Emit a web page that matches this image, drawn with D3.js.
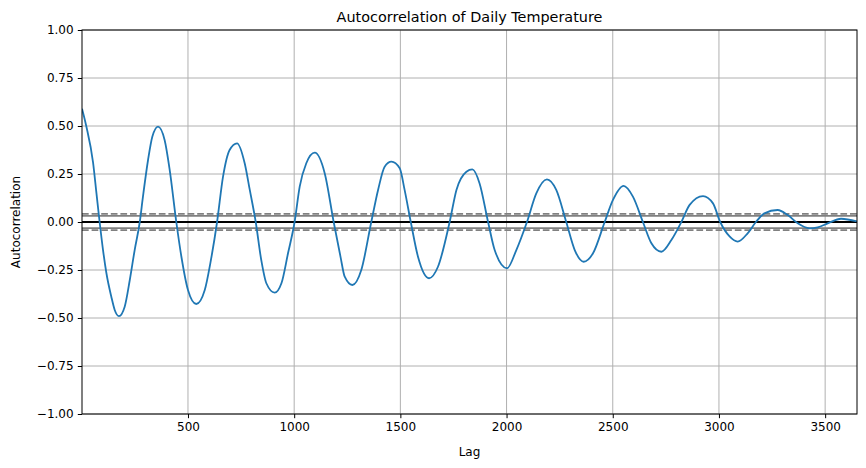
<!DOCTYPE html>
<html>
<head>
<meta charset="utf-8">
<script src="https://cdn.jsdelivr.net/npm/d3@7"></script>
<style>
  body { margin: 0; background: #fff; }
  text { font-family: "DejaVu Sans", sans-serif; fill: #000; }
</style>
</head>
<body>
<div id="chart"></div>
<script>
// lag values
const lags = [
  1, 21, 53, 69, 84, 100, 116, 139, 155, 175, 202, 226, 249, 273, 288, 312, 332, 359,
  390, 414, 445, 469, 500, 539, 579, 606, 637, 665, 696, 731, 767, 791, 819, 845, 869,
  908, 940, 971, 1002, 1026, 1057, 1097, 1144, 1186, 1218, 1238, 1274, 1316, 1363,
  1395, 1426, 1458, 1497, 1520, 1549, 1583, 1635, 1677, 1732, 1764, 1811, 1839, 1873,
  1913, 1944, 2002, 2046, 2096, 2140, 2190, 2234, 2281, 2321, 2363, 2407, 2462, 2501,
  2551, 2595, 2642, 2682, 2729, 2776, 2823, 2862, 2925, 2972, 3006, 3050, 3088, 3135,
  3174, 3214, 3276, 3324, 3371, 3426, 3465, 3512, 3575, 3650
];
// autocorrelation at each lag
const acf = [
  0.59, 0.50, 0.31, 0.15, 0.0, -0.146, -0.267, -0.389, -0.458, -0.49, -0.441, -0.302,
  -0.146, 0.0, 0.132, 0.323, 0.444, 0.497,
  0.427, 0.27, 0.0, -0.181, -0.354, -0.427, -0.354, -0.21, 0.0, 0.236, 0.375, 0.41,
  0.306, 0.167, 0.0, -0.198, -0.319,
  -0.368, -0.319, -0.163, 0.0, 0.184, 0.306, 0.361, 0.253, 0.0, -0.18, -0.285, -0.328,
  -0.25, 0.0,
  0.167, 0.288, 0.314, 0.28, 0.167, 0.0, -0.181, -0.293, -0.233, 0.0, 0.167, 0.262,
  0.274, 0.201,
  0.0, -0.146, -0.241, -0.146, 0.0, 0.149, 0.222, 0.167, 0.0, -0.146, -0.207, -0.163,
  0.0, 0.115,
  0.188, 0.132, 0.0, -0.111, -0.155, -0.094, 0.0, 0.089, 0.135, 0.097, 0.0, -0.075,
  -0.102, -0.059,
  0.0, 0.045, 0.0625, 0.036, -0.007, -0.033, -0.028, -0.007, 0.017, 0.003
];
// confidence bands (99% dashed, 95% solid) and the zero line
const bandLevels = [0.0426, 0.0324, 0.0, -0.0324, -0.0426];
const bandStyles = ['dashed', 'solid', 'zero', 'solid', 'dashed'];
const xTicks = [500, 1000, 1500, 2000, 2500, 3000, 3500];
const yTicks = [-1, -0.75, -0.5, -0.25, 0, 0.25, 0.5, 0.75, 1];

const svgW = 866, svgH = 468;
const margin = { top: 30, right: 9, bottom: 54, left: 82 };

const chart = d3.select('#chart').append('svg')
  .attr('width', svgW)
  .attr('height', svgH);

const x = d3.scaleLinear()
  .domain([1, 3650])
  .range([margin.left, svgW - margin.right]);
const y = d3.scaleLinear()
  .domain([-1, 1])
  .range([svgH - margin.bottom, margin.top]);

// grid lines
chart.append('g')
  .selectAll('line')
  .data(xTicks)
  .join('line')
  .attr('x1', d => x(d)).attr('x2', d => x(d))
  .attr('y1', margin.top).attr('y2', svgH - margin.bottom)
  .attr('stroke', '#b0b0b0').attr('stroke-width', 1);
chart.append('g')
  .selectAll('line')
  .data(yTicks)
  .join('line')
  .attr('x1', margin.left).attr('x2', svgW - margin.right)
  .attr('y1', d => y(d)).attr('y2', d => y(d))
  .attr('stroke', '#b0b0b0').attr('stroke-width', 1);

// clip everything to the axes box
chart.append('clipPath').attr('id', 'clip')
  .append('rect')
  .attr('x', margin.left).attr('y', margin.top)
  .attr('width', svgW - margin.left - margin.right)
  .attr('height', svgH - margin.top - margin.bottom);

const plot = chart.append('g').attr('clip-path', 'url(#clip)');

// horizontal reference lines
bandLevels.forEach((lvl, i) => {
  const style = bandStyles[i];
  plot.append('line')
    .attr('x1', margin.left).attr('x2', svgW - margin.right)
    .attr('y1', y(lvl)).attr('y2', y(lvl))
    .attr('stroke', style === 'zero' ? '#000' : '#808080')
    .attr('stroke-width', 1.8)
    .attr('stroke-dasharray', style === 'dashed' ? '6.7,2.9' : null);
});

// autocorrelation line
const line = d3.line()
  .x((d, i) => x(lags[i]))
  .y(d => y(d))
  .curve(d3.curveMonotoneX);

plot.append('path')
  .datum(acf)
  .attr('d', line)
  .attr('fill', 'none')
  .attr('stroke', '#1f77b4')
  .attr('stroke-width', 1.8)
  .attr('stroke-linejoin', 'round');

// axes
const xAxis = chart.append('g')
  .attr('transform', `translate(0,${svgH - margin.bottom})`)
  .call(d3.axisBottom(x).tickValues(xTicks).tickFormat(d3.format('d'))
    .tickSize(4.2).tickPadding(4.2).tickSizeOuter(0));
const yAxis = chart.append('g')
  .attr('transform', `translate(${margin.left},0)`)
  .call(d3.axisLeft(y).tickValues(yTicks).tickFormat(d3.format('.2f'))
    .tickSize(4.2).tickPadding(4.2).tickSizeOuter(0));
[xAxis, yAxis].forEach(a => {
  a.select('.domain').remove();
  a.selectAll('line').attr('stroke', '#000').attr('stroke-width', 1);
  a.selectAll('text').attr('font-size', '12px').attr('font-family', '"DejaVu Sans", sans-serif');
});

// axes frame
chart.append('rect')
  .attr('x', margin.left).attr('y', margin.top)
  .attr('width', svgW - margin.left - margin.right)
  .attr('height', svgH - margin.top - margin.bottom)
  .attr('fill', 'none').attr('stroke', '#000').attr('stroke-width', 1);

// labels and title
chart.append('text')
  .attr('x', (margin.left + svgW - margin.right) / 2).attr('y', 456)
  .attr('text-anchor', 'middle').style('font-size', '12px').text('Lag');
chart.append('text')
  .attr('transform', 'rotate(-90)')
  .attr('x', -(margin.top + svgH - margin.bottom) / 2).attr('y', 20)
  .attr('text-anchor', 'middle').style('font-size', '12px').text('Autocorrelation');
chart.append('text')
  .attr('x', (margin.left + svgW - margin.right) / 2).attr('y', 22)
  .attr('text-anchor', 'middle').style('font-size', '14.4px').text('Autocorrelation of Daily Temperature');
</script>
</body>
</html>
